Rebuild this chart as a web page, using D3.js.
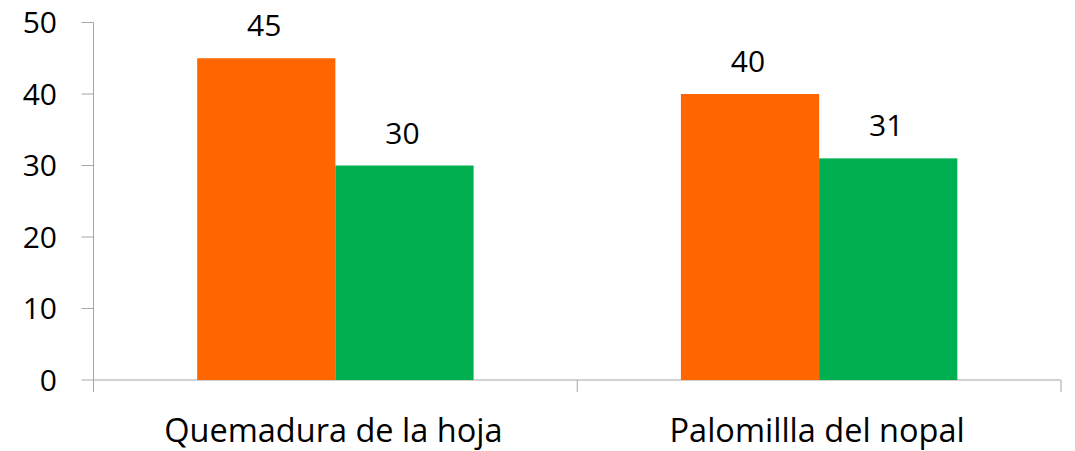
<!DOCTYPE html>
<html>
<head>
<meta charset="utf-8">
<script src="https://cdn.jsdelivr.net/npm/d3@7"></script>
<style>
  body { margin: 0; background: #fff; }
  text { font-family: "Open Sans", "DejaVu Sans", sans-serif; fill: #000; }
</style>
</head>
<body>
<svg id="chart" width="1075" height="451"></svg>
<script>
const categories = ["Quemadura de la hoja", "Palomillla del nopal"]
const seriesA = [45, 40]
const seriesB = [30, 31]
const yTicks = [0, 10, 20, 30, 40, 50]

const colors = ["#FF6600", "#00B050"]

const svg = d3.select("#chart")
const plotLeft = 93.5, plotRight = 1061, plotTop = 22.5, plotBottom = 380

const x = d3.scaleBand().domain(categories).range([plotLeft, plotRight])
const y = d3.scaleLinear().domain([0, 50]).range([plotBottom, plotTop])

const barW = x.bandwidth() / 3.5
const gap = (x.bandwidth() - 2 * barW) / 2

// axes
const axisColor = "#A6A6A6"
svg.append("line")
  .attr("x1", plotLeft).attr("x2", plotLeft).attr("y1", plotTop).attr("y2", plotBottom)
  .attr("stroke", axisColor)
svg.append("line")
  .attr("x1", plotLeft).attr("x2", plotRight).attr("y1", plotBottom).attr("y2", plotBottom)
  .attr("stroke", axisColor)

yTicks.forEach(t => {
  svg.append("line")
    .attr("x1", plotLeft - 12).attr("x2", plotLeft).attr("y1", y(t)).attr("y2", y(t))
    .attr("stroke", axisColor)
  svg.append("text")
    .attr("x", 57).attr("y", y(t)).attr("dy", "0.36em")
    .attr("text-anchor", "end").attr("font-size", 30)
    .text(t)
})

// category tick marks at boundaries
const bounds = [plotLeft, ...categories.map(c => x(c) + x.bandwidth())]
bounds.forEach(b => {
  svg.append("line")
    .attr("x1", b).attr("x2", b).attr("y1", plotBottom).attr("y2", plotBottom + 12)
    .attr("stroke", axisColor)
})

// bars
const series = [seriesA, seriesB]
series.forEach((vals, si) => {
  categories.forEach((c, i) => {
    const bx = x(c) + gap + si * barW
    svg.append("rect")
      .attr("x", bx).attr("y", y(vals[i]))
      .attr("width", barW).attr("height", plotBottom - y(vals[i]))
      .attr("fill", colors[si])
    svg.append("text")
      .attr("x", bx + barW / 2 - 2).attr("y", y(vals[i]) - 22)
      .attr("text-anchor", "middle").attr("font-size", 30)
      .text(vals[i])
  })
})

// category labels
categories.forEach(c => {
  svg.append("text")
    .attr("x", x(c) + x.bandwidth() / 2 - 2).attr("y", 442)
    .attr("text-anchor", "middle").attr("font-size", 32.5)
    .text(c)
})
</script>
</body>
</html>
